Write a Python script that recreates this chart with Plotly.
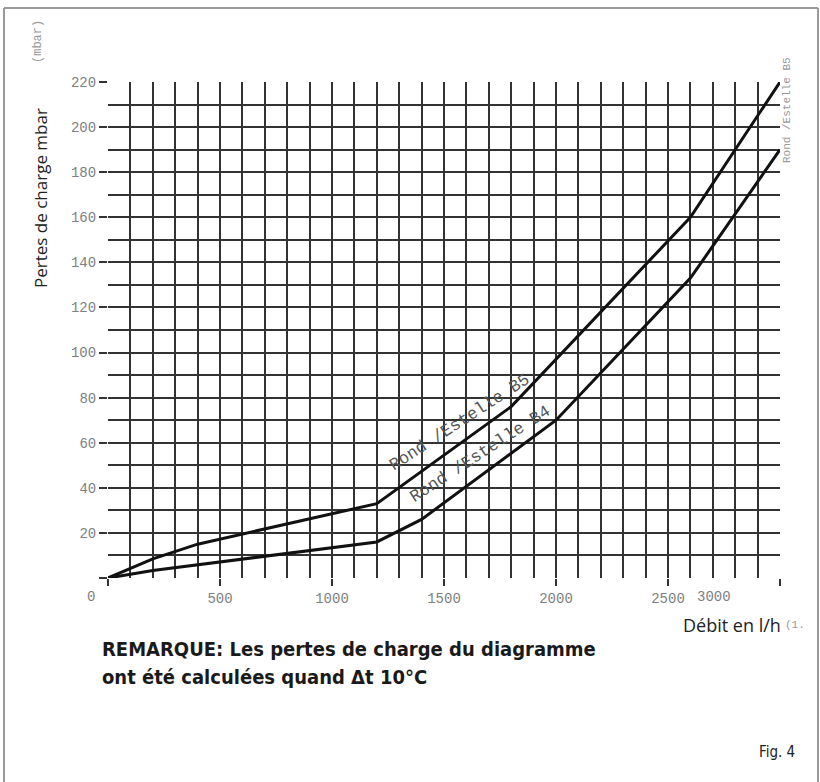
import plotly.graph_objects as go

# ---- data ----
flow_b5 = [0, 200, 400, 1200, 1800, 2600, 3000]
loss_b5 = [0, 8.5, 15, 33, 76, 160, 220]
flow_b4 = [0, 200, 1200, 1400, 2000, 2600, 3000]
loss_b4 = [0, 3.3, 16, 26, 70, 133, 190]

x_ticks = [0, 500, 1000, 1500, 2000, 2500, 3000]
x_ticktext = ["", "500", "1000", "1500", "2000", "2500", ""]
y_ticks = list(range(0, 221, 20))
y_ticktext = [""] + [str(v) for v in y_ticks[1:]]

W, H = 820, 782
L, R, T, B = 108, 40, 82, 204
pw, ph = W - L - R, H - T - B


def px(xp):
    return (xp - L) / pw


def py(yp):
    return (H - B - yp) / ph


GRID = "#333333"
MONO = "Liberation Mono, DejaVu Sans Mono, monospace"
SANS = "Open Sans, Noto Sans, sans-serif"
COND = "Liberation Sans Narrow, DejaVu Sans Condensed, Roboto, sans-serif"

fig = go.Figure()
fig.add_trace(go.Scatter(x=flow_b5, y=loss_b5, mode="lines",
                         line=dict(color="#111111", width=3), showlegend=False,
                         hoverinfo="skip"))
fig.add_trace(go.Scatter(x=flow_b4, y=loss_b4, mode="lines",
                         line=dict(color="#111111", width=3), showlegend=False,
                         hoverinfo="skip"))

fig.update_layout(
    width=W, height=H,
    margin=dict(l=L, r=R, t=T, b=B, pad=0),
    paper_bgcolor="white", plot_bgcolor="white",
    xaxis=dict(range=[0, 3000], tickvals=x_ticks, ticktext=x_ticktext,
               ticks="outside", ticklen=7, tickwidth=1.6, tickcolor=GRID,
               showgrid=True, gridcolor=GRID, gridwidth=1.6,
               minor=dict(dtick=100, showgrid=True, gridcolor=GRID, gridwidth=1.6, ticks=""),
               showline=False, zeroline=False,
               tickfont=dict(family=MONO, size=14, color="#808080")),
    yaxis=dict(range=[0, 220], tickvals=y_ticks, ticktext=y_ticktext,
               ticks="outside", ticklen=8, tickwidth=1.6, tickcolor=GRID,
               showgrid=True, gridcolor=GRID, gridwidth=1.6,
               minor=dict(dtick=10, showgrid=True, gridcolor=GRID, gridwidth=1.6, ticks=""),
               showline=False, zeroline=False,
               tickfont=dict(family=MONO, size=14, color="#808080")),
)


def note(x, y, text, font, xref="paper", yref="paper", xanchor="center",
         yanchor="middle", angle=0):
    return dict(x=x, y=y, xref=xref, yref=yref, text=text, textangle=angle,
                xanchor=xanchor, yanchor=yanchor, showarrow=False, font=font)


ann = []
# line labels
ann.append(note(1571, 69, "Rond /Estelle B5", dict(family=MONO, size=17, color="#555555"),
                xref="x", yref="y", angle=-33))
ann.append(note(1661, 54.6, "Rond /Estelle B4", dict(family=MONO, size=17, color="#555555"),
                xref="x", yref="y", angle=-33))
# odd tick labels
tf = dict(family=MONO, size=14, color="#808080")
ann.append(note(px(91), py(597), "0", tf))
ann.append(note(2705, py(597), "3000", tf, xref="x"))
# axis titles
ann.append(note(px(40), py(198), "Pertes de charge mbar",
                dict(family=SANS, size=17, color="#222222"), angle=-90))
ann.append(note(px(38), py(42), "(mbar)",
                dict(family=MONO, size=12, color="#999999"), angle=-90))
ann.append(note(px(787), py(110), "Rond /Estelle B5",
                dict(family=MONO, size=11, color="#999999"), angle=-90))
ann.append(note(px(783), py(625), "Débit en l/h",
                dict(family=SANS, size=18, color="#222222"), xanchor="right"))
ann.append(note(px(783), py(625), "(1.",
                dict(family=MONO, size=11, color="#999999"), xanchor="left"))
# remarks
cf = dict(family=COND, size=20, color="#1a1a1a")
ann.append(note(px(100), py(649), "<b>REMARQUE: Les pertes de charge du diagramme</b>",
                cf, xanchor="left"))
ann.append(note(px(100), py(677), "<b>ont été calculées quand Δt 10°C</b>",
                cf, xanchor="left"))
ann.append(note(px(797), py(752), "Fig. 4",
                dict(family=COND, size=15, color="#222222"), xanchor="right"))
fig.update_layout(annotations=ann)

# outer frame (left, top, right)
frame = dict(color="#9a9a9a", width=2)
fig.add_shape(type="line", xref="paper", yref="paper",
              x0=px(4), x1=px(4), y0=py(8), y1=py(782), line=frame)
fig.add_shape(type="line", xref="paper", yref="paper",
              x0=px(4), x1=px(818), y0=py(8), y1=py(8), line=frame)
fig.add_shape(type="line", xref="paper", yref="paper",
              x0=px(818), x1=px(818), y0=py(8), y1=py(782), line=frame)

fig.write_html("out.html")
